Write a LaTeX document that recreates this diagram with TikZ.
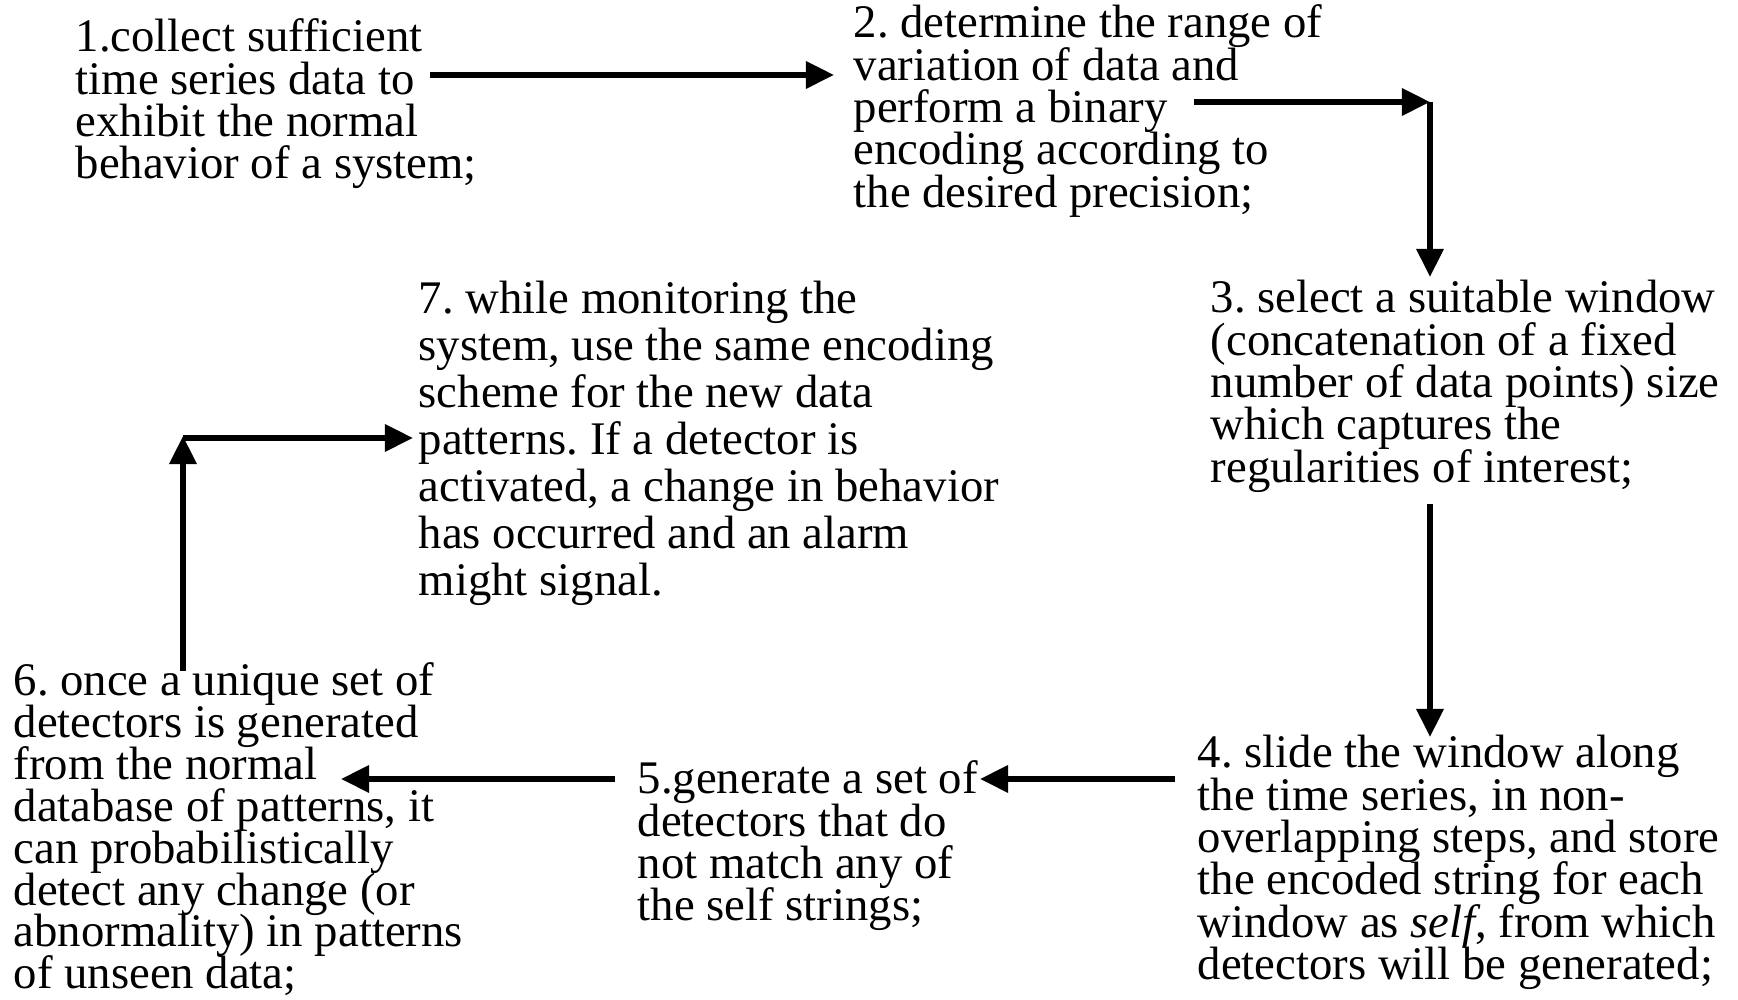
\documentclass[tikz,border=0pt]{standalone}
\usepackage{fontspec}
\setmainfont{Liberation Serif}
\usetikzlibrary{arrows.meta}
\frenchspacing

% one line of a step description
\newcommand\textrow[1]{\hbox{#1}}
% a block of lines with a fixed distance between baselines
\newcommand\linestack[2]{\vtop{\baselineskip=#1\lineskiplimit=-50pt\lineskip=0pt #2}}

\tikzset{
  txt/.style={anchor=base west, inner sep=0pt, font=\fontsize{13.3pt}{12pt}\selectfont},
  arr/.style={line width=1.6pt, -{Triangle[length=8pt,width=7.5pt]}}
}

\begin{document}
\begin{tikzpicture}
\useasboundingbox (0,0) rectangle (17.38,10);

% step descriptions
\node[txt] (s1) at (0.75,9.48) {\linestack{12.04pt}{%
  \textrow{1.collect sufficient}
  \textrow{time series data to}
  \textrow{exhibit the normal}
  \textrow{behavior of a system;}}};

\node[txt] (s2) at (8.53,9.62) {\linestack{12.04pt}{%
  \textrow{2. determine the range of}
  \textrow{variation of data and}
  \textrow{perform a binary}
  \textrow{encoding according to}
  \textrow{the desired precision;}}};

\node[txt] (s3) at (12.10,6.87) {\linestack{12.04pt}{%
  \textrow{3. select a suitable window}
  \textrow{(concatenation of a fixed}
  \textrow{number of data points) size}
  \textrow{which captures the}
  \textrow{regularities of interest;}}};

\node[txt] (s4) at (11.97,2.32) {\linestack{12.04pt}{%
  \textrow{4. slide the window along}
  \textrow{the time series, in non-}
  \textrow{overlapping steps, and store}
  \textrow{the encoded string for each}
  \textrow{window as \textit{self}, from which}
  \textrow{detectors will be generated;}}};

\node[txt] (s5) at (6.37,2.06) {\linestack{12.04pt}{%
  \textrow{5.generate a set of}
  \textrow{detectors that do}
  \textrow{not match any of}
  \textrow{the self strings;}}};

\node[txt] (s6) at (0.13,3.04) {\linestack{11.9pt}{%
  \textrow{6. once a unique set of}
  \textrow{detectors is generated}
  \textrow{from the normal}
  \textrow{database of patterns, it}
  \textrow{can probabilistically}
  \textrow{detect any change (or}
  \textrow{abnormality) in patterns}
  \textrow{of unseen data;}}};

\node[txt] (s7) at (4.18,6.86) {\linestack{13.37pt}{%
  \textrow{7. while monitoring the}
  \textrow{system, use the same encoding}
  \textrow{scheme for the new data}
  \textrow{patterns. If a detector is}
  \textrow{activated, a change in behavior}
  \textrow{has occurred and an alarm}
  \textrow{might signal.}}};

% arrow end points
\coordinate (a1s) at (4.30,9.25);
\coordinate (a1e) at (8.34,9.25);
\coordinate (a2s) at (11.94,8.98);
\coordinate (a2c) at (14.30,8.98);
\coordinate (a2e) at (14.30,7.23);
\coordinate (a3s) at (14.30,4.96);
\coordinate (a3e) at (14.30,2.63);
\coordinate (a4s) at (11.75,2.21);
\coordinate (a4e) at (9.80,2.21);
\coordinate (a5s) at (6.15,2.21);
\coordinate (a5e) at (3.41,2.21);
\coordinate (a6s) at (1.83,3.29);
\coordinate (a6c) at (1.83,5.64);
\coordinate (a6b) at (1.83,5.62);
\coordinate (a6e) at (4.13,5.62);

% connectors
\draw[arr] (a1s) -- (a1e);
\draw[arr] (a2s) -- (a2c);
\draw[arr] (a2c) -- (a2e);
\draw[arr] (a3s) -- (a3e);
\draw[arr] (a4s) -- (a4e);
\draw[arr] (a5s) -- (a5e);
\draw[arr] (a6s) -- (a6c);
\draw[arr] (a6b) -- (a6e);
\end{tikzpicture}
\end{document}
